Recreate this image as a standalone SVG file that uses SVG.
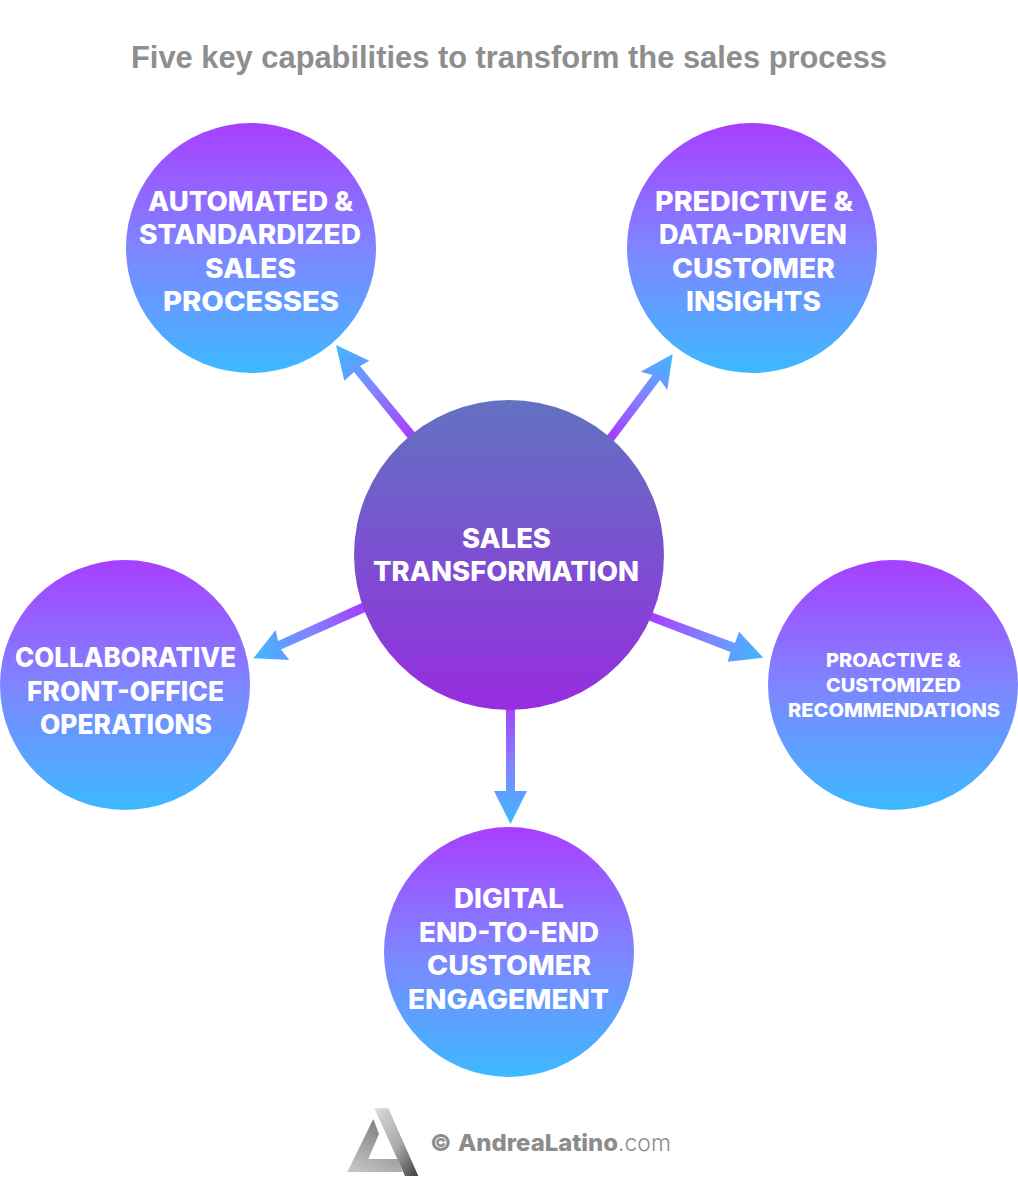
<svg xmlns="http://www.w3.org/2000/svg" width="1018" height="1200" viewBox="0 0 1018 1200">
<style>
.t{font-family:"Inter","Liberation Sans",sans-serif;font-weight:800;font-size:27px;fill:#fff;text-anchor:middle}
.s{font-size:19px}
.title{font-family:"Liberation Sans",Arial,sans-serif;font-weight:700;font-size:31px;fill:#8e8e8e;text-anchor:middle}
.c{fill:url(#cg)}
.lg{font-family:"Inter","Liberation Sans",sans-serif;font-size:23.5px;fill:#8c8c8c;font-weight:800}
</style>
<defs>
<linearGradient id="cg" x1="0" y1="0" x2="0" y2="1"><stop offset="0" stop-color="#a73fff"/><stop offset=".5" stop-color="#7f85ff"/><stop offset="1" stop-color="#3db9ff"/></linearGradient>
<linearGradient id="mg" x1="0" y1="0" x2="0" y2="1"><stop offset="0" stop-color="#6272c0"/><stop offset="1" stop-color="#962de0"/></linearGradient>
<linearGradient id="a1" gradientUnits="userSpaceOnUse" x1="410" y1="435" x2="336" y2="345"><stop offset="0" stop-color="#a73fff"/><stop offset=".5" stop-color="#7f85ff"/><stop offset="1" stop-color="#3db9ff"/></linearGradient>
<linearGradient id="a2" gradientUnits="userSpaceOnUse" x1="612" y1="437" x2="673" y2="354"><stop offset="0" stop-color="#a73fff"/><stop offset=".5" stop-color="#7f85ff"/><stop offset="1" stop-color="#3db9ff"/></linearGradient>
<linearGradient id="a3" gradientUnits="userSpaceOnUse" x1="652" y1="617" x2="763" y2="658"><stop offset="0" stop-color="#a73fff"/><stop offset=".5" stop-color="#7f85ff"/><stop offset="1" stop-color="#3db9ff"/></linearGradient>
<linearGradient id="a4" gradientUnits="userSpaceOnUse" x1="363" y1="608" x2="253" y2="658"><stop offset="0" stop-color="#a73fff"/><stop offset=".5" stop-color="#7f85ff"/><stop offset="1" stop-color="#3db9ff"/></linearGradient>
<linearGradient id="a5" gradientUnits="userSpaceOnUse" x1="510" y1="705" x2="510" y2="824"><stop offset="0" stop-color="#a73fff"/><stop offset=".5" stop-color="#7f85ff"/><stop offset="1" stop-color="#3db9ff"/></linearGradient>
<linearGradient id="l1" x1="0" y1="0" x2="1" y2="1"><stop offset="0" stop-color="#dcdcdc"/><stop offset=".55" stop-color="#a8a8a8"/><stop offset="1" stop-color="#3e3e3e"/></linearGradient>
<linearGradient id="l2" x1="0.7" y1="0" x2="0.2" y2="1"><stop offset="0" stop-color="#7a7a7a"/><stop offset="1" stop-color="#c4c4c4"/></linearGradient>
</defs>
<rect width="1018" height="1200" fill="#fff"/>
<text class="title" x="509" y="68" textLength="756" lengthAdjust="spacingAndGlyphs">Five key capabilities to transform the sales process</text>
<g id="connectors">
<polygon fill="url(#a1)" points="417,435 410,441 354,372 344.3,380.7 336,345 369.3,360.7 360,366"/>
<polygon fill="url(#a2)" points="606,437 613,442 660,380 667.3,390 672.7,354 640.7,371.7 652.5,375"/>
<polygon fill="url(#a3)" points="648,611 645,619 730.5,652 727.7,661.7 763.3,657.7 739,631.7 735,643"/>
<polygon fill="url(#a4)" points="366,601 370,610 281,649.5 289.3,660 253.3,658.3 275.7,630 278,641"/>
<polygon fill="url(#a5)" points="506,700 515,700 515,791 527,791 510.5,824 494,791 506,791"/>
</g>
<g id="node-center"><circle cx="509" cy="555" r="155" fill="url(#mg)"/>
<text class="t" x="506.5" y="548" textLength="89" lengthAdjust="spacingAndGlyphs">SALES</text><text class="t" x="506" y="581" textLength="266" lengthAdjust="spacingAndGlyphs">TRANSFORMATION</text></g>
<g id="node-automated"><circle class="c" cx="251" cy="248" r="125"/>
<text class="t" x="250.5" y="211" textLength="205" lengthAdjust="spacingAndGlyphs">AUTOMATED &amp;</text><text class="t" x="250" y="244" textLength="222" lengthAdjust="spacingAndGlyphs">STANDARDIZED</text><text class="t" x="250.5" y="278" textLength="91" lengthAdjust="spacingAndGlyphs">SALES</text><text class="t" x="251" y="311" textLength="176" lengthAdjust="spacingAndGlyphs">PROCESSES</text></g>
<g id="node-predictive"><circle class="c" cx="752" cy="248" r="125"/>
<text class="t" x="754" y="211" textLength="198" lengthAdjust="spacingAndGlyphs">PREDICTIVE &amp;</text><text class="t" x="753" y="244" textLength="188" lengthAdjust="spacingAndGlyphs">DATA-DRIVEN</text><text class="t" x="753.5" y="278" textLength="163" lengthAdjust="spacingAndGlyphs">CUSTOMER</text><text class="t" x="753.5" y="311" textLength="135" lengthAdjust="spacingAndGlyphs">INSIGHTS</text></g>
<g id="node-collaborative"><circle class="c" cx="125" cy="685" r="125"/>
<text class="t" x="125.5" y="667" textLength="221" lengthAdjust="spacingAndGlyphs">COLLABORATIVE</text><text class="t" x="125.5" y="701" textLength="197" lengthAdjust="spacingAndGlyphs">FRONT-OFFICE</text><text class="t" x="126" y="734" textLength="172" lengthAdjust="spacingAndGlyphs">OPERATIONS</text></g>
<g id="node-proactive"><circle class="c" cx="893" cy="685" r="125"/>
<text class="t s" x="893.5" y="667" textLength="135" lengthAdjust="spacingAndGlyphs">PROACTIVE &amp;</text><text class="t s" x="893.5" y="692" textLength="135" lengthAdjust="spacingAndGlyphs">CUSTOMIZED</text><text class="t s" x="894" y="717" textLength="212" lengthAdjust="spacingAndGlyphs">RECOMMENDATIONS</text></g>
<g id="node-digital"><circle class="c" cx="509" cy="952" r="125"/>
<text class="t" x="509" y="908" textLength="110" lengthAdjust="spacingAndGlyphs">DIGITAL</text><text class="t" x="509" y="942" textLength="180" lengthAdjust="spacingAndGlyphs">END-TO-END</text><text class="t" x="509" y="975" textLength="164" lengthAdjust="spacingAndGlyphs">CUSTOMER</text><text class="t" x="508.5" y="1009" textLength="201" lengthAdjust="spacingAndGlyphs">ENGAGEMENT</text></g>
<g id="logo">
<polygon fill="url(#l1)" points="374.3,1108.3 388.3,1108.3 418.3,1176 405,1176"/>
<polygon fill="url(#l2)" points="373.3,1119 347.3,1172 402.7,1172 398,1159 368.3,1159 379,1134"/>
<text class="lg" x="430" y="1151">©</text>
<text class="lg" x="458" y="1151" textLength="160" lengthAdjust="spacingAndGlyphs">AndreaLatino</text>
<text class="lg" x="618" y="1151" textLength="53" lengthAdjust="spacingAndGlyphs" style="font-weight:300">.com</text>
</g>
</svg>
